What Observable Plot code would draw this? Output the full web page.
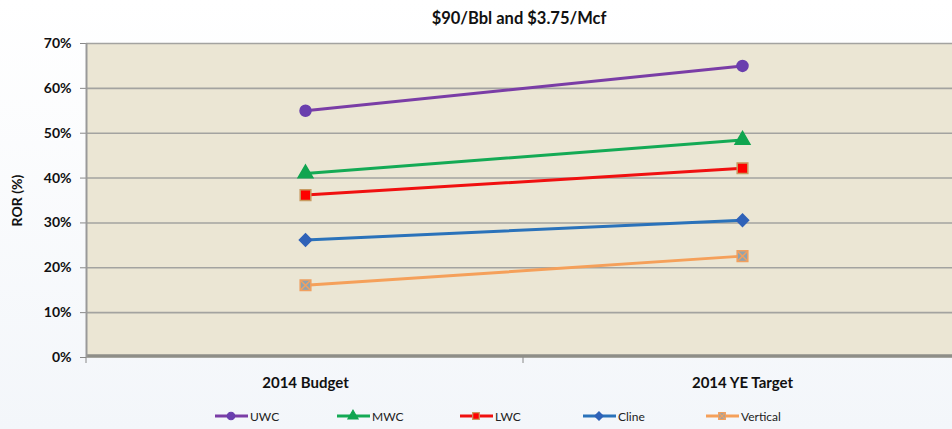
<!DOCTYPE html>
<html><head><meta charset="utf-8">
<script src="https://cdn.jsdelivr.net/npm/d3@7"></script>
<script src="https://cdn.jsdelivr.net/npm/@observablehq/plot@0.6"></script>
<style>
html,body{margin:0;padding:0;width:952px;height:429px;overflow:hidden;background:linear-gradient(180deg,#ffffff 0%,#f3f6fa 100%);font-family:Lato,"Open Sans",sans-serif;}
#title{height:36px;line-height:36px;text-align:center;font-weight:bold;font-size:16.5px;color:#111;padding-left:86px;box-sizing:border-box;}
#legend{position:absolute;top:404px;left:0;width:952px;height:24px;font-size:12px;color:#222;}
.item{position:absolute;top:0;display:flex;align-items:center;height:24px;}
.item span{margin-left:2px;}
</style></head>
<body>
<div id="title">$90/Bbl and $3.75/Mcf</div>
<div id="chart"></div>
<div id="legend"></div>
<script>
const categories = ["2014 Budget", "2014 YE Target"];
const seriesNames = ["UWC", "MWC", "LWC", "Cline", "Vertical"];
const uwc = [0.55, 0.65];
const mwc = [0.41, 0.485];
const lwc = [0.362, 0.422];
const cline = [0.262, 0.306];
const vertical = [0.161, 0.226];
const yTicks = [0, 0.1, 0.2, 0.3, 0.4, 0.5, 0.6, 0.7];

const lineColors = {UWC:"#7A3DA6", MWC:"#14AA55", LWC:"#F01010", Cline:"#2A72BA", Vertical:"#F5A05A"};
const markFill = {UWC:"#6A3FAE", MWC:"#10A550", LWC:"#FF0000", Cline:"#2F62B8", Vertical:"#8FA3B0"};
const markStroke = {UWC:"#6A3FAE", MWC:"#10A550", LWC:"#C89A60", Cline:"#2F62B8", Vertical:"#F0A060"};
const markSymbol = {UWC:"circle", MWC:"triangle", LWC:"square", Cline:"diamond2", Vertical:"square"};
const markR = {UWC:5.5, MWC:5.5, LWC:6, Cline:5.5, Vertical:6};

const allValues = [uwc, mwc, lwc, cline, vertical];
const data = [];
seriesNames.forEach((s, i) => categories.forEach((c, j) => data.push({series: s, cat: c, value: allValues[i][j]})));

const marks = [
  Plot.frame({fill: "#EBE6D4"}),
  Plot.ruleY(yTicks.filter(d => d > 0), {stroke: "#A3A3A0", strokeWidth: 1.6}),
  Plot.ruleY([0], {stroke: "#8E8E88", strokeWidth: 3.5, dy: -1.5}),
  Plot.axisY({ticks: yTicks, tickFormat: d3.format(".0%"), tickSize: 6, tickPadding: 9, fontSize: 14, fontWeight: "bold", label: "ROR (%)", labelAnchor: "center", labelArrow: "none", labelOffset: 74, stroke: "#888"}),
  Plot.axisX({tickSize: 0, tickPadding: 20, fontSize: 15, fontWeight: "bold", label: null})
];
seriesNames.forEach(s => {
  const d = data.filter(e => e.series === s);
  marks.push(Plot.line(d, {x: "cat", y: "value", stroke: lineColors[s], strokeWidth: 3}));
  marks.push(Plot.dot(d, {x: "cat", y: "value", symbol: markSymbol[s], r: markR[s], fill: markFill[s], stroke: markStroke[s], strokeWidth: 1.5}));
  if (s === "Vertical") marks.push(Plot.dot(d, {x: "cat", y: "value", symbol: "times", r: 4.5, stroke: "#F0A060", strokeWidth: 1.5}));
});

const chart = Plot.plot({
  width: 952, height: 360,
  marginTop: 7, marginBottom: 39, marginLeft: 86, marginRight: 0,
  style: {background: "transparent", fontFamily: "Lato, 'Open Sans', sans-serif", color: "#111", overflow: "visible"},
  x: {type: "point", domain: categories, range: [86, 960], padding: 0.5},
  y: {domain: [0, 0.7], range: [321, 7]},
  marks
});
document.getElementById("chart").appendChild(chart);

const svg = d3.select(chart);
[86, 523].forEach(x => svg.append("line").attr("x1", x).attr("x2", x).attr("y1", 321).attr("y2", 327).attr("stroke", "#888"));
svg.append("line").attr("x1", 86.5).attr("x2", 86.5).attr("y1", 7).attr("y2", 321).attr("stroke", "#999").attr("stroke-width", 2);

const legendX = [215, 337, 460, 583, 706];
const legend = document.getElementById("legend");
seriesNames.forEach((s, i) => {
  const div = document.createElement("div");
  div.className = "item";
  div.style.left = legendX[i] + "px";
  const sym = d3.symbol(d3["symbol" + {circle:"Circle",triangle:"Triangle",square:"Square",diamond2:"Diamond2"}[markSymbol[s]]], 44)();
  let extra = s === "Vertical" ? `<path d="${d3.symbol(d3.symbolTimes, 30)()}" transform="translate(16,12)" stroke="#F0A060" stroke-width="1.3" fill="none"/>` : "";
  div.innerHTML = `<svg width="33" height="24"><line x1="0" x2="33" y1="12" y2="12" stroke="${lineColors[s]}" stroke-width="3"/><path d="${sym}" transform="translate(16,12)" fill="${markFill[s]}" stroke="${markStroke[s]}" stroke-width="1.2"/>${extra}</svg><span>${s}</span>`;
  legend.appendChild(div);
});
</script>
</body></html>
